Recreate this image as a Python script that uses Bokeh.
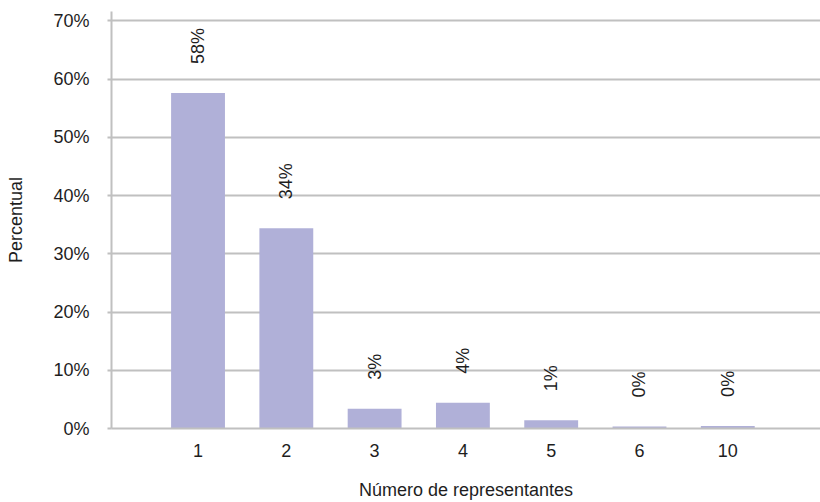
import math

from bokeh.embed import file_html
from bokeh.models import ColumnDataSource, FixedTicker, Range1d
from bokeh.plotting import figure
from bokeh.resources import INLINE

# Share of cases by number of representatives
categories = ["1", "2", "3", "4", "5", "6", "10"]
percentages = [57.6, 34.4, 3.4, 4.4, 1.4, 0.35, 0.45]
y_ticks = [0, 10, 20, 30, 40, 50, 60, 70]

FONT = "Liberation Sans"
TEXT = "#1e1e1e"
GRID = "#c0c0c0"
BAR = "#b0b0d8"

positions = list(range(1, len(categories) + 1))
labels = [f"{round(v):.0f}%" for v in percentages]

source = ColumnDataSource(dict(x=positions, top=percentages, label=labels))

p = figure(
    width=820,
    height=502,
    x_range=Range1d(0.02, 8.05),
    y_range=Range1d(0, 71.6),
    output_backend="svg",
    toolbar_location=None,
    min_border_left=111,
    min_border_right=0,
    min_border_top=11,
    min_border_bottom=69,
)
p.outline_line_color = None
p.background_fill_color = "white"
p.border_fill_color = "white"

p.vbar(x="x", top="top", width=0.61, source=source,
       fill_color=BAR, line_color=None)

p.text(x="x", y="top", text="label", source=source,
       angle=math.pi / 2, text_align="left", text_baseline="middle",
       y_offset=-29, text_font_size="18px", text_color=TEXT,
       text_font={"value": FONT})

# grid
p.xgrid.grid_line_color = None
p.ygrid.ticker = FixedTicker(ticks=y_ticks)
p.ygrid.grid_line_color = GRID
p.ygrid.grid_line_width = 2

# y axis
ya = p.yaxis[0]
ya.ticker = FixedTicker(ticks=y_ticks)
ya.major_label_overrides = {t: f"{t}%" for t in y_ticks}
ya.axis_line_color = GRID
ya.axis_line_width = 2
ya.major_tick_line_color = GRID
ya.major_tick_line_width = 2
ya.major_tick_in = 0
ya.major_tick_out = 4
ya.minor_tick_line_color = None
ya.major_label_standoff = 18
ya.major_label_text_font = FONT
ya.major_label_text_font_size = "18px"
ya.major_label_text_color = TEXT
ya.axis_label = "Percentual"
ya.axis_label_text_font = FONT
ya.axis_label_text_font_size = "18px"
ya.axis_label_text_font_style = "normal"
ya.axis_label_text_color = TEXT
ya.axis_label_standoff = 24

# x axis
xa = p.xaxis[0]
xa.ticker = FixedTicker(ticks=positions)
xa.major_label_overrides = {i: c for i, c in zip(positions, categories)}
xa.axis_line_color = GRID
xa.axis_line_width = 2
xa.major_tick_line_color = None
xa.minor_tick_line_color = None
xa.major_label_standoff = 9
xa.major_label_text_font = FONT
xa.major_label_text_font_size = "18px"
xa.major_label_text_color = TEXT
xa.axis_label = "Número de representantes"
xa.axis_label_text_font = FONT
xa.axis_label_text_font_size = "18px"
xa.axis_label_text_font_style = "normal"
xa.axis_label_text_color = TEXT
xa.axis_label_standoff = 20

open("out.html", "w").write(file_html(p, INLINE))
